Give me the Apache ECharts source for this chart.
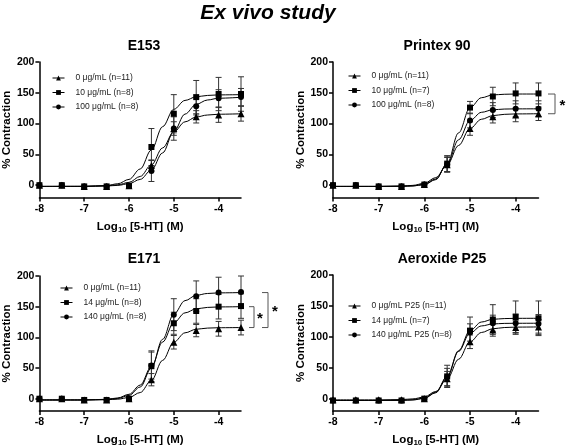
<!DOCTYPE html>
<html><head><meta charset="utf-8">
<script src="https://cdn.jsdelivr.net/npm/echarts@6/dist/echarts.min.js"></script>
<style>html,body{margin:0;padding:0;background:#fff}#c{width:567px;height:448px}</style>
</head><body><div id="c"></div>
<script>
// ---- data ----
const doses = [-8, -7.5, -7, -6.5, -6, -5.5, -5, -4.5, -4, -3.5];
const fitX = [-8, -7, -6.5, -6.25, -6, -5.75, -5.5, -5.25, -5, -4.75, -4.5, -4.25, -4, -3.5];
const panelTitles = ['E153', 'Printex 90', 'E171', 'Aeroxide P25'];
const yTicks = [0, 50, 100, 150, 200];
const xTicks = [-8, -7, -6, -5, -4];

// E153
const e153Names = ['0 μg/mL (n=11)', '10 μg/mL (n=8)', '100 μg/mL (n=8)'];
const e153Ctrl = [0, 0, -2, -2, -1, 32, 92, 111, 114, 116];
const e153CtrlErr = [0, 0, 0, 0, 0, 9, 11, 10, 12, 12];
const e153Low = [0, 0, -2, -2, -1, 62, 116, 143, 148, 148];
const e153LowErr = [0, 0, 0, 0, 0, 30, 31, 27, 27, 28];
const e153High = [0, 0, -2, -2, -1, 23, 92, 128, 141, 143];
const e153HighErr = [0, 0, 0, 0, 0, 17, 19, 14, 14, 14];
const e153CtrlFit = [-2, -2, -1, 0.6, 4.6, 14.2, 33, 60.5, 86.5, 102.8, 110.7, 113.9, 115.2, 115.9];
const e153LowFit = [-2, -1.8, -0.5, 2.3, 9.4, 26.3, 57.3, 95, 123.2, 137.6, 143.5, 145.7, 146.6, 147];
const e153HighFit = [-2, -2, -1.3, -0.3, 2.5, 9.4, 24.7, 52.4, 87.2, 115.4, 131.3, 138.3, 141.2, 142.7];

// Printex 90
const p90Names = ['0 μg/mL (n=11)', '10 μg/mL (n=7)', '100 μg/mL (n=8)'];
const p90Ctrl = [0, 0, -2, -2, 1, 33, 92, 111, 114, 116];
const p90CtrlErr = [0, 0, 0, 0, 0, 12, 11, 10, 11, 11];
const p90Low = [0, 0, -2, -2, 1, 35, 126, 144, 149, 149];
const p90LowErr = [0, 0, 0, 0, 0, 13, 10, 15, 17, 17];
const p90High = [0, 0, -2, -2, 1, 34, 105, 122, 124, 124];
const p90HighErr = [0, 0, 0, 0, 0, 12, 12, 12, 13, 13];
const p90CtrlFit = [-2, -2, -1.4, -0.3, 3.1, 12.3, 33, 64.5, 92.1, 107, 112.9, 115, 115.7, 116];
const p90LowFit = [-2, -2, -1.8, -1.3, 0.8, 9, 35.2, 84.9, 125.8, 142, 146.5, 147.6, 148, 148];
const p90HighFit = [-2, -2, -1.7, -1.1, 1.5, 10.1, 34, 73.7, 105, 118.3, 122.4, 123.6, 123.9, 124];

// E171
const e171Names = ['0 μg/mL (n=11)', '14 μg/mL (n=8)', '140 μg/mL (n=8)'];
const e171Ctrl = [0, 0, -2, -2, 0, 31, 92, 111, 114, 116];
const e171CtrlErr = [0, 0, 0, 0, 0, 10, 11, 10, 12, 12];
const e171Low = [0, 0, -2, -2, 0, 53, 123, 143, 150, 151];
const e171LowErr = [0, 0, 0, 0, 0, 25, 18, 20, 20, 20];
const e171High = [0, 0, -2, -2, 0, 54, 137, 167, 173, 174];
const e171HighErr = [0, 0, 0, 0, 0, 22, 26, 25, 25, 26];
const e171CtrlFit = [-2, -2, -1.6, -0.7, 2, 10.1, 29.9, 62.5, 92.1, 107.4, 113.2, 115.1, 115.7, 116];
const e171LowFit = [-2, -2, -0.9, 1.3, 7.2, 22.2, 52.4, 92.3, 123.8, 139.9, 146.4, 148.8, 149.6, 150];
const e171HighFit = [-2, -2, -1.2, 0.5, 5.5, 19.1, 50, 96.8, 137.9, 159.8, 168.5, 171.5, 172.5, 173];

// Aeroxide P25
const p25Names = ['0 μg/mL P25 (n=11)', '14 μg/mL (n=7)', '140 μg/mL P25 (n=8)'];
const p25Ctrl = [-2, -2, -2, -2, 0, 32, 92, 111, 115, 116];
const p25CtrlErr = [0, 0, 0, 0, 0, 12, 11, 10, 11, 12];
const p25Low = [-3, -3, -3, -3, 0, 36, 110, 128, 132, 130];
const p25LowErr = [0, 0, 0, 0, 0, 18, 22, 24, 26, 28];
const p25High = [-3, -3, -3, -3, 0, 35, 107, 122, 122, 121];
const p25HighErr = [0, 0, 0, 0, 0, 14, 14, 13, 15, 15];
const p25CtrlFit = [-2, -2, -1.5, -0.4, 2.7, 11.6, 31.9, 63.7, 91.9, 107, 113, 115, 115.7, 116];
const p25LowFit = [-3, -3, -2.7, -1.9, 0.9, 10.4, 36.1, 77.5, 110.1, 123.9, 128.3, 129.5, 129.9, 130];
const p25HighFit = [-3, -3, -2.8, -2.1, 0.4, 9.5, 35.1, 76.3, 106.1, 117.6, 120.8, 121.7, 121.9, 122];

// significance brackets: [panel, fromValue, toValue]
const sigBrackets = [[1, 116, 148], [2, 116, 150], [2, 116, 173]];

// ---- assembly ----
const symbols = ['triangle', 'rect', 'circle'];
const panels = [
  {names: e153Names, means: [e153Ctrl, e153Low, e153High], errs: [e153CtrlErr, e153LowErr, e153HighErr], fits: [e153CtrlFit, e153LowFit, e153HighFit]},
  {names: p90Names, means: [p90Ctrl, p90Low, p90High], errs: [p90CtrlErr, p90LowErr, p90HighErr], fits: [p90CtrlFit, p90LowFit, p90HighFit]},
  {names: e171Names, means: [e171Ctrl, e171Low, e171High], errs: [e171CtrlErr, e171LowErr, e171HighErr], fits: [e171CtrlFit, e171LowFit, e171HighFit]},
  {names: p25Names, means: [p25Ctrl, p25Low, p25High], errs: [p25CtrlErr, p25LowErr, p25HighErr], fits: [p25CtrlFit, p25LowFit, p25HighFit]}
];

const FONT = '"Liberation Sans", Arial, Helvetica, sans-serif';
const gridPos = [
  {left: 38, top: 62, width: 203, height: 135.5},
  {left: 333, top: 62, width: 205.5, height: 135.5},
  {left: 38, top: 276, width: 203, height: 135.5},
  {left: 333, top: 275, width: 205.5, height: 137}
];
const titlePos = [[139, 34], [432, 34], [139, 247], [437, 247]];
const legendPos = [[52, 73], [348, 71], [60, 283], [348, 301]];

const axisLineStyle = {color: '#000', width: 1.5};
const xAxes = [], yAxes = [], series = [], titles = [], legends = [];
titles.push({text: 'Ex vivo study', left: 263, top: -2, textAlign: 'center',
  textStyle: {fontFamily: FONT, fontSize: 21, fontWeight: 'bold', fontStyle: 'italic', color: '#000'}});

function errRender(params, api) {
  const x = api.value(0), y = api.value(1), e = api.value(2);
  if (!e) return null;
  const hi = api.coord([x, y + e]), lo = api.coord([x, y - e]);
  const w = 3, st = {stroke: '#333', lineWidth: 1};
  return {type: 'group', children: [
    {type: 'line', shape: {x1: hi[0], y1: hi[1], x2: lo[0], y2: lo[1]}, style: st},
    {type: 'line', shape: {x1: hi[0] - w, y1: hi[1], x2: hi[0] + w, y2: hi[1]}, style: st},
    {type: 'line', shape: {x1: lo[0] - w, y1: lo[1], x2: lo[0] + w, y2: lo[1]}, style: st}
  ]};
}

panels.forEach((p, i) => {
  xAxes.push({
    gridIndex: i, type: 'value', min: -8, max: -3.5, interval: 1,
    name: '{b|Log}{s|10}{b| [5-HT] (M)}', nameLocation: 'middle', nameGap: 22,
    nameTextStyle: {rich: {
      b: {fontFamily: FONT, fontSize: 11.5, fontWeight: 'bold', color: '#000'},
      s: {fontFamily: FONT, fontSize: 8, fontWeight: 'bold', color: '#000', verticalAlign: 'bottom', padding: [6, 0, 0, 0]}
    }},
    axisLine: {show: true, onZero: false, lineStyle: axisLineStyle},
    axisTick: {show: true, length: 4, lineStyle: {color: '#000', width: 1.5}, customValues: xTicks},
    axisLabel: {fontFamily: FONT, fontSize: 10.5, fontWeight: 'bold', color: '#000', margin: 6, customValues: xTicks},
    splitLine: {show: false}
  });
  yAxes.push({
    gridIndex: i, type: 'value', min: -20, max: 200,
    name: '% Contraction', nameLocation: 'middle', nameGap: 25, nameRotate: 90,
    nameTextStyle: {fontFamily: FONT, fontSize: 11.5, fontWeight: 'bold', color: '#000'},
    axisLine: {show: true, onZero: false, lineStyle: axisLineStyle},
    axisTick: {show: true, length: 4, lineStyle: {color: '#000', width: 1.5}, customValues: yTicks},
    axisLabel: {fontFamily: FONT, fontSize: 10.5, fontWeight: 'bold', color: '#000', margin: 5, customValues: yTicks},
    splitLine: {show: false}
  });
  titles.push({text: panelTitles[i], left: titlePos[i][0], top: titlePos[i][1], textAlign: 'center',
    textStyle: {fontFamily: FONT, fontSize: 14, fontWeight: 'bold', color: '#000'}});
  legends.push({
    data: p.names.map(n => ({name: n})), orient: 'vertical', padding: 0,
    left: legendPos[i][0], top: legendPos[i][1], itemWidth: 12, itemHeight: 6, itemGap: 4.5,
    selectedMode: false,
    lineStyle: {color: '#000', width: 1, opacity: 1},
    itemStyle: {color: '#000'},
    textStyle: {fontFamily: FONT, fontSize: 8.5, lineHeight: 10, color: '#222', padding: [0, 0, 0, 6]}
  });
  for (let k = 0; k < 3; k++) {
    series.push({
      type: 'line', xAxisIndex: i, yAxisIndex: i, smooth: 0.35, smoothMonotone: 'x',
      showSymbol: false, silent: true, z: 2,
      lineStyle: {color: '#000', width: 1},
      data: fitX.map((x, j) => [x, p.fits[k][j]])
    });
    series.push({
      type: 'custom', xAxisIndex: i, yAxisIndex: i, renderItem: errRender, z: 3, silent: true,
      encode: {x: 0, y: 1},
      data: doses.map((x, j) => [x, p.means[k][j], p.errs[k][j]])
    });
    series.push({
      name: p.names[k], type: 'line', xAxisIndex: i, yAxisIndex: i, z: 4,
      symbol: symbols[k], symbolSize: k === 0 ? 7 : 6, showAllSymbol: true,
      lineStyle: {width: 0, opacity: 0}, itemStyle: {color: '#000'},
      data: doses.map((x, j) => [x, p.means[k][j]])
    });
  }
});

const chart = echarts.init(document.getElementById('c'), null, {renderer: 'canvas'});
chart.setOption({
  backgroundColor: '#fff', animation: false,
  title: titles, legend: legends, grid: gridPos,
  xAxis: xAxes, yAxis: yAxes, series: series
});

// significance brackets placed via the axis scales
const bracketOffsets = {1: [[9.5, 16.5, 24]], 2: [[8, 13, 19], [21, 27, 34]]};
const counters = {};
const graphics = [];
sigBrackets.forEach(([pi, from, to]) => {
  counters[pi] = counters[pi] || 0;
  const off = bracketOffsets[pi][counters[pi]++];
  const top = chart.convertToPixel({xAxisIndex: pi, yAxisIndex: pi}, [-3.5, to]);
  const bot = chart.convertToPixel({xAxisIndex: pi, yAxisIndex: pi}, [-3.5, from]);
  const x0 = top[0] + off[0], x1 = top[0] + off[1];
  const st = {stroke: '#555', lineWidth: 1, fill: null};
  graphics.push({type: 'polyline', shape: {points: [[x0, top[1]], [x1, top[1]], [x1, bot[1]], [x0, bot[1]]]}, style: st});
  graphics.push({type: 'text', x: top[0] + off[2], y: (top[1] + bot[1]) / 2 + 2,
    style: {text: '*', fontFamily: FONT, fontSize: 15, fontWeight: 'bold', fill: '#000', align: 'center', verticalAlign: 'middle'}});
});
chart.setOption({graphic: graphics});
</script>
</body></html>
